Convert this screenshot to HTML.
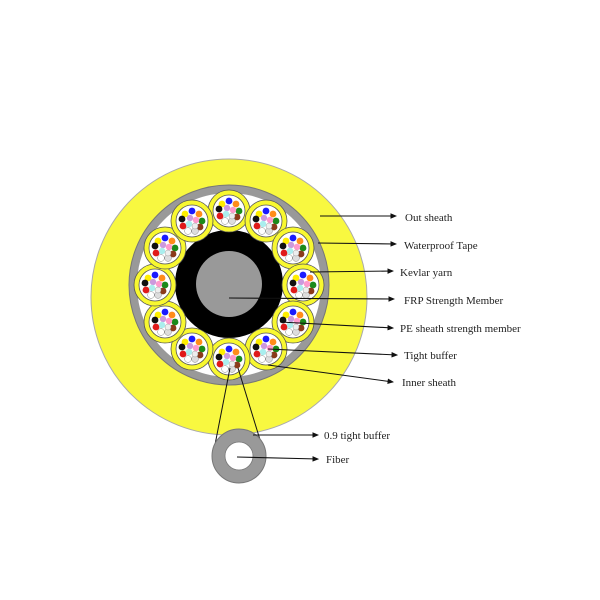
<!DOCTYPE html>
<html><head><style>
html,body{margin:0;padding:0;background:#fff;}
svg{display:block;}
text{font-family:"Liberation Serif",serif;font-size:11px;fill:#222;}
</style></head><body>
<svg width="600" height="600" viewBox="0 0 600 600" xmlns="http://www.w3.org/2000/svg">
<defs>
<marker id="a" markerWidth="6" markerHeight="6" refX="5" refY="3" orient="auto"><path d="M0,0.5 L6,3 L0,5.5z" fill="#111"/></marker>
<g id="sub">
<circle r="21" fill="#f8f830" stroke="#555" stroke-width="0.8"/>
<circle r="16" fill="#fff" stroke="#555" stroke-width="0.8"/>
<circle cx="-7" cy="-7" r="3.4" fill="#ffee00"/>
<circle cx="0" cy="-10" r="3.4" fill="#1a1aff"/>
<circle cx="7" cy="-7" r="3.4" fill="#ff8c1a"/>
<circle cx="10" cy="0" r="3.4" fill="#1a8a1a"/>
<circle cx="8" cy="6" r="3.4" fill="#8b3a1a"/>
<circle cx="3" cy="10" r="3.4" fill="#ddd" stroke="#888" stroke-width="0.5"/>
<circle cx="-4" cy="10" r="3.4" fill="#fff" stroke="#888" stroke-width="0.5"/>
<circle cx="-9" cy="5" r="3.4" fill="#e01a1a"/>
<circle cx="-10" cy="-2" r="3.4" fill="#111"/>
<circle cx="-2" cy="-3" r="3.2" fill="#cc99dd"/>
<circle cx="4" cy="-1" r="3.2" fill="#ff99cc"/>
<circle cx="-3" cy="3" r="3.2" fill="#aaeeee"/>
<circle cx="3" cy="5" r="3" fill="#eee" stroke="#999" stroke-width="0.5"/>
</g>
</defs>
<circle cx="229" cy="297" r="138" fill="#f8f840" stroke="#aaa" stroke-width="1"/>
<circle cx="229" cy="285" r="100" fill="#999" stroke="#777" stroke-width="1"/>
<circle cx="229" cy="285" r="92" fill="#fff"/>
<circle cx="229" cy="284" r="54" fill="#000"/>
<circle cx="229" cy="284" r="33" fill="#999"/>
<g>
<use href="#sub" x="229" y="211"/>
<use href="#sub" x="266" y="221"/>
<use href="#sub" x="293" y="248"/>
<use href="#sub" x="303" y="285"/>
<use href="#sub" x="293" y="322"/>
<use href="#sub" x="266" y="349"/>
<use href="#sub" x="229" y="359"/>
<use href="#sub" x="192" y="349"/>
<use href="#sub" x="165" y="322"/>
<use href="#sub" x="155" y="285"/>
<use href="#sub" x="165" y="248"/>
<use href="#sub" x="192" y="221"/>
</g>
<line x1="230" y1="368" x2="213" y2="455" stroke="#111" stroke-width="1"/>
<line x1="238" y1="368" x2="265" y2="456" stroke="#111" stroke-width="1"/>
<circle cx="239" cy="456" r="27" fill="#999" stroke="#777" stroke-width="1"/>
<circle cx="239" cy="456" r="14" fill="#fff" stroke="#777" stroke-width="0.8"/>
<g stroke="#111" stroke-width="1.1" fill="none" marker-end="url(#a)">
<line x1="320" y1="216" x2="396" y2="216"/>
<line x1="318" y1="243" x2="396" y2="244"/>
<line x1="310" y1="272" x2="393" y2="271"/>
<line x1="229" y1="298" x2="394" y2="299"/>
<line x1="280" y1="322" x2="393" y2="328"/>
<line x1="268" y1="349" x2="397" y2="355"/>
<line x1="268" y1="365" x2="393" y2="382"/>
<line x1="253" y1="435" x2="318" y2="435"/>
<line x1="237" y1="457" x2="318" y2="459"/>
</g>
<text x="405" y="221">Out sheath</text>
<text x="404" y="249">Waterproof Tape</text>
<text x="400" y="276">Kevlar yarn</text>
<text x="404" y="304">FRP Strength Member</text>
<text x="400" y="332">PE sheath strength member</text>
<text x="404" y="359">Tight buffer</text>
<text x="402" y="386">Inner sheath</text>
<text x="324" y="439">0.9 tight buffer</text>
<text x="326" y="463">Fiber</text>
</svg>
</body></html>
